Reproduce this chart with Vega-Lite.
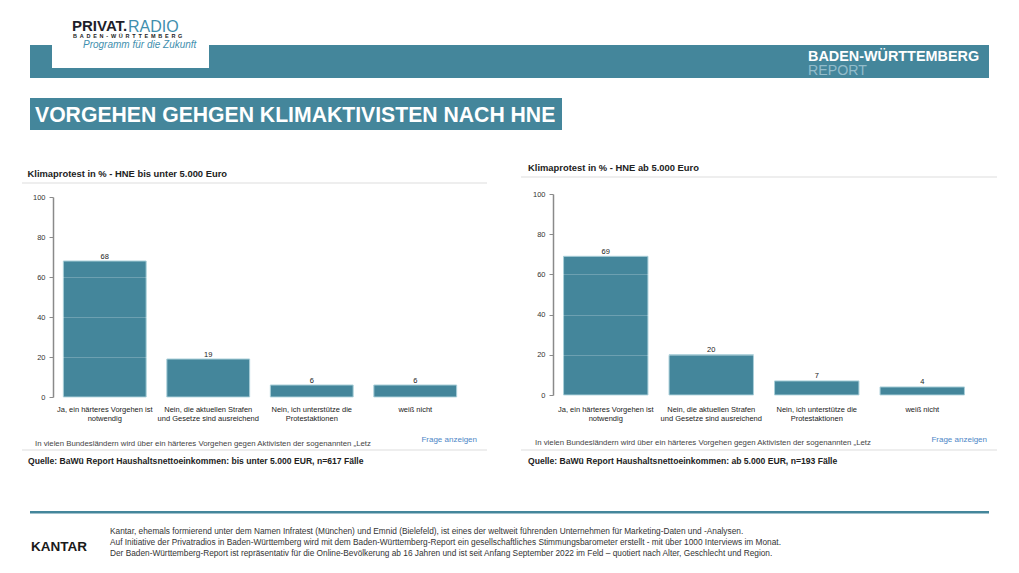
{
  "$schema": "https://vega.github.io/schema/vega-lite/v6.json",
  "padding": 0,
  "background": "#ffffff",
  "autosize": {"type": "pad"},
  "spacing": 0,
  "datasets": {
    "left": [
      {"antwort": "Ja, ein härteres Vorgehen ist notwendig", "anteil": 68},
      {"antwort": "Nein, die aktuellen Strafen und Gesetze sind ausreichend", "anteil": 19},
      {"antwort": "Nein, ich unterstütze die Protestaktionen", "anteil": 6},
      {"antwort": "weiß nicht", "anteil": 6}
    ],
    "right": [
      {"antwort": "Ja, ein härteres Vorgehen ist notwendig", "anteil": 69},
      {"antwort": "Nein, die aktuellen Strafen und Gesetze sind ausreichend", "anteil": 20},
      {"antwort": "Nein, ich unterstütze die Protestaktionen", "anteil": 7},
      {"antwort": "weiß nicht", "anteil": 4}
    ],
    "none": []
  },
  "vconcat": [
    {
      "spacing": 0,
      "hconcat": [
        {"width": 30, "height": 78, "data": {"name": "none"}, "mark": {"type": "text", "text": ""}},
        {"bounds": "flush", "spacing": 0, "vconcat": [
          {"width": 22, "height": 45, "data": {"name": "none"}, "mark": {"type": "text", "text": ""}},
          {"width": 22, "height": 33, "data": {"name": "none"}, "mark": {"type": "text", "text": ""}, "view": {"fill": "#44869b"}}
        ]},
        {"bounds": "flush", "spacing": 0, "vconcat": [
          {"width": 157, "height": 12, "data": {"name": "none"}, "mark": {"type": "text", "text": ""},
           "title": {"text": "PRIVAT.", "orient": "bottom", "anchor": "start", "offset": 7, "dx": 20, "fontSize": 15, "fontWeight": "bold", "color": "#1e1e2a", "limit": 2000}},
          {"width": 157, "height": 22, "data": {"name": "none"}, "mark": {"type": "text", "text": ""},
           "title": {"text": "RADIO", "orient": "bottom", "anchor": "start", "offset": -15.5, "dx": 76, "fontSize": 16, "fontWeight": "normal", "color": "#3f8fae", "limit": 2000}},
          {"width": 157, "height": 6, "data": {"name": "none"}, "mark": {"type": "text", "text": ""},
           "title": {"text": "B\u2002A\u2002D\u2002E\u2002N\u2002-\u2002W\u2002Ü\u2002R\u2002T\u2002T\u2002E\u2002M\u2002B\u2002E\u2002R\u2002G", "orient": "bottom", "anchor": "start", "offset": -5.8, "dx": 21, "fontSize": 5.5, "fontWeight": "bold", "color": "#222222", "limit": 2000}},
          {"width": 157, "height": 28, "data": {"name": "none"}, "mark": {"type": "text", "text": ""},
           "title": {"text": "Programm für die Zukunft", "orient": "bottom", "anchor": "start", "offset": -27.8, "dx": 31, "fontSize": 10, "fontWeight": "normal", "fontStyle": "italic", "color": "#3f8fae", "limit": 2000}},
          {"width": 157, "height": 10, "data": {"name": "none"}, "mark": {"type": "text", "text": ""}, "view": {"fill": "#44869b"}}
        ]},
        {"bounds": "flush", "spacing": 0, "vconcat": [
          {"width": 780, "height": 45, "data": {"name": "none"}, "mark": {"type": "text", "text": ""}},
          {"width": 780, "height": 33, "data": {"name": "none"}, "mark": {"type": "text", "text": ""}, "view": {"fill": "#44869b"},
           "title": {"text": "BADEN-WÜRTTEMBERG", "subtitle": "REPORT", "orient": "bottom", "anchor": "start", "offset": -28, "dx": 599, "fontSize": 14.4, "fontWeight": "bold", "color": "#ffffff", "subtitleFontSize": 14.2, "subtitleFontWeight": "normal", "subtitleColor": "#93bccb", "subtitlePadding": 0, "limit": 2000}}
        ]},
        {"width": 30, "height": 78, "data": {"name": "none"}, "mark": {"type": "text", "text": ""}}
      ]
    },
    {
      "spacing": 0,
      "vconcat": [
        {"width": 1019, "height": 19, "data": {"name": "none"}, "mark": {"type": "text", "text": ""}},
        {"bounds": "flush", "spacing": 0, "hconcat": [
          {"width": 30, "height": 32, "data": {"name": "none"}, "mark": {"type": "text", "text": ""}},
          {"width": 532, "height": 32, "data": {"name": "none"}, "mark": {"type": "text", "text": ""}, "view": {"fill": "#44869b"},
           "title": {"text": "VORGEHEN GEHGEN KLIMAKTIVISTEN NACH HNE", "orient": "bottom", "anchor": "start", "offset": -25.1, "dx": 5, "fontSize": 21.2, "fontWeight": "bold", "color": "#ffffff", "limit": 2000}},
          {"width": 457, "height": 32, "data": {"name": "none"}, "mark": {"type": "text", "text": ""}}
        ]}
      ]
    },
    {
      "spacing": 0,
      "hconcat": [
        {"width": 22, "height": 342, "data": {"name": "none"}, "mark": {"type": "text", "text": ""}},
        {"spacing": 0, "vconcat": [
          {"width": 465, "height": 52, "data": {"name": "none"}, "mark": {"type": "text", "text": ""},
           "title": {"text": "Klimaprotest in % - HNE bis unter 5.000 Euro", "orient": "bottom", "anchor": "start", "offset": -12, "dx": 5.5, "fontSize": 9.4, "fontWeight": "bold", "color": "#222222", "limit": 2000}},
          {"width": 465, "height": 2, "data": {"name": "none"}, "mark": {"type": "text", "text": ""}, "view": {"fill": "#eeeeee"}},
          {"width": 465, "height": 3, "data": {"name": "none"}, "mark": {"type": "text", "text": ""}},
          {"bounds": "flush", "spacing": 0, "hconcat": [
            {"width": 31, "height": 262, "data": {"name": "none"}, "mark": {"type": "text", "text": ""},
             "title": {"text": "In vielen Bundesländern wird über ein härteres Vorgehen gegen Aktivisten der sogenannten „Letz", "orient": "bottom", "anchor": "start", "offset": -9.3, "dx": 13, "fontSize": 7.8, "fontWeight": "normal", "color": "#444444", "limit": 2000}},
            {
              "width": 414, "height": 210,
              "data": {"name": "left"},
              "encoding": {
                "x": {"field": "antwort", "type": "nominal", "sort": null,
                      "scale": {"paddingInner": 0.2, "paddingOuter": 0.1},
                      "axis": {"title": null, "domain": false, "ticks": false, "labelAngle": 0, "labelFontSize": 7.5, "labelColor": "#222222", "labelPadding": 8, "labelLineHeight": 9, "labelOverlap": false, "labelLimit": 0,
                               "labelExpr": "datum.label == 'Ja, ein härteres Vorgehen ist notwendig' ? ['Ja, ein härteres Vorgehen ist', 'notwendig'] : datum.label == 'Nein, die aktuellen Strafen und Gesetze sind ausreichend' ? ['Nein, die aktuellen Strafen', 'und Gesetze sind ausreichend'] : datum.label == 'Nein, ich unterstütze die Protestaktionen' ? ['Nein, ich unterstütze die', 'Protestaktionen'] : datum.label"}},
                "y": {"field": "anteil", "type": "quantitative", "scale": {"domain": [0, 100], "range": [210, 10], "nice": false},
                      "axis": {"title": null, "values": [0, 20, 40, 60, 80, 100], "grid": true, "gridColor": "#ffffff", "gridOpacity": 0.22, "zindex": 1, "domainColor": "#8a8a8a", "domainWidth": 1.5, "tickColor": "#8a8a8a", "tickSize": 4, "labelFontSize": 7.5, "labelColor": "#333333", "labelPadding": 4}}
              },
              "layer": [
                {"mark": {"type": "bar", "color": "#44869b", "stroke": "#a9cfd9", "strokeWidth": 1}},
                {"mark": {"type": "text", "dy": -2.5, "baseline": "alphabetic", "fontSize": 7.5, "color": "#222222"}, "encoding": {"text": {"field": "anteil", "type": "quantitative"}}}
              ]
            },
            {"width": 20, "height": 262, "data": {"name": "none"}, "mark": {"type": "text", "text": ""},
             "title": {"text": "Frage anzeigen", "orient": "bottom", "anchor": "end", "offset": -13.5, "dx": -10, "fontSize": 8, "fontWeight": "normal", "color": "#4d86c6", "limit": 2000}}
          ]},
          {"width": 465, "height": 2, "data": {"name": "none"}, "mark": {"type": "text", "text": ""}, "view": {"fill": "#eeeeee"}},
          {"width": 465, "height": 21, "data": {"name": "none"}, "mark": {"type": "text", "text": ""},
           "title": {"text": "Quelle: BaWü Report Haushaltsnettoeinkommen: bis unter 5.000 EUR, n=617 Fälle", "orient": "bottom", "anchor": "start", "offset": -14.7, "dx": 6, "fontSize": 8.6, "fontWeight": "bold", "color": "#222222", "limit": 2000}}
        ]},
        {"width": 34, "height": 342, "data": {"name": "none"}, "mark": {"type": "text", "text": ""}},
        {"spacing": 0, "vconcat": [
          {"width": 476, "height": 46, "data": {"name": "none"}, "mark": {"type": "text", "text": ""},
           "title": {"text": "Klimaprotest in % - HNE ab 5.000 Euro", "orient": "bottom", "anchor": "start", "offset": -12, "dx": 7, "fontSize": 9.4, "fontWeight": "bold", "color": "#222222", "limit": 2000}},
          {"width": 476, "height": 2, "data": {"name": "none"}, "mark": {"type": "text", "text": ""}, "view": {"fill": "#eeeeee"}},
          {"width": 476, "height": 6, "data": {"name": "none"}, "mark": {"type": "text", "text": ""}},
          {"bounds": "flush", "spacing": 0, "hconcat": [
            {"width": 32, "height": 265, "data": {"name": "none"}, "mark": {"type": "text", "text": ""},
             "title": {"text": "In vielen Bundesländern wird über ein härteres Vorgehen gegen Aktivisten der sogenannten „Letz", "orient": "bottom", "anchor": "start", "offset": -10.3, "dx": 14, "fontSize": 7.8, "fontWeight": "normal", "color": "#444444", "limit": 2000}},
            {
              "width": 422, "height": 213,
              "data": {"name": "right"},
              "encoding": {
                "x": {"field": "antwort", "type": "nominal", "sort": null,
                      "scale": {"paddingInner": 0.2, "paddingOuter": 0.1},
                      "axis": {"title": null, "domain": false, "ticks": false, "labelAngle": 0, "labelFontSize": 7.5, "labelColor": "#222222", "labelPadding": 8, "labelLineHeight": 9, "labelOverlap": false, "labelLimit": 0,
                               "labelExpr": "datum.label == 'Ja, ein härteres Vorgehen ist notwendig' ? ['Ja, ein härteres Vorgehen ist', 'notwendig'] : datum.label == 'Nein, die aktuellen Strafen und Gesetze sind ausreichend' ? ['Nein, die aktuellen Strafen', 'und Gesetze sind ausreichend'] : datum.label == 'Nein, ich unterstütze die Protestaktionen' ? ['Nein, ich unterstütze die', 'Protestaktionen'] : datum.label"}},
                "y": {"field": "anteil", "type": "quantitative", "scale": {"domain": [0, 100], "range": [211, 10], "nice": false},
                      "axis": {"title": null, "values": [0, 20, 40, 60, 80, 100], "grid": true, "gridColor": "#ffffff", "gridOpacity": 0.22, "zindex": 1, "domainColor": "#8a8a8a", "domainWidth": 1.5, "tickColor": "#8a8a8a", "tickSize": 4, "labelFontSize": 7.5, "labelColor": "#333333", "labelPadding": 4}}
              },
              "layer": [
                {"mark": {"type": "bar", "color": "#44869b", "stroke": "#a9cfd9", "strokeWidth": 1}},
                {"mark": {"type": "text", "dy": -2.5, "baseline": "alphabetic", "fontSize": 7.5, "color": "#222222"}, "encoding": {"text": {"field": "anteil", "type": "quantitative"}}}
              ]
            },
            {"width": 22, "height": 265, "data": {"name": "none"}, "mark": {"type": "text", "text": ""},
             "title": {"text": "Frage anzeigen", "orient": "bottom", "anchor": "end", "offset": -13.5, "dx": -10, "fontSize": 8, "fontWeight": "normal", "color": "#4d86c6", "limit": 2000}}
          ]},
          {"width": 476, "height": 2, "data": {"name": "none"}, "mark": {"type": "text", "text": ""}, "view": {"fill": "#eeeeee"}},
          {"width": 476, "height": 21, "data": {"name": "none"}, "mark": {"type": "text", "text": ""},
           "title": {"text": "Quelle: BaWü Report Haushaltsnettoeinkommen: ab 5.000 EUR, n=193 Fälle", "orient": "bottom", "anchor": "start", "offset": -15.2, "dx": 7, "fontSize": 8.6, "fontWeight": "bold", "color": "#222222", "limit": 2000}}
        ]},
        {"width": 22, "height": 342, "data": {"name": "none"}, "mark": {"type": "text", "text": ""}}
      ]
    },
    {
      "spacing": 0,
      "hconcat": [
        {"width": 30, "height": 102, "data": {"name": "none"}, "mark": {"type": "text", "text": ""}},
        {"spacing": 0, "vconcat": [
          {"width": 959, "height": 39, "data": {"name": "none"}, "mark": {"type": "text", "text": ""}},
          {"width": 959, "height": 2.5, "data": {"name": "none"}, "mark": {"type": "text", "text": ""}, "view": {"fill": "#44869b"}},
          {"bounds": "flush", "spacing": 0, "hconcat": [
            {"width": 80, "height": 60.5, "data": {"name": "none"}, "mark": {"type": "text", "text": ""},
             "title": {"text": "KANTAR", "orient": "bottom", "anchor": "start", "offset": -35, "dx": 1, "fontSize": 13.5, "fontWeight": "bold", "color": "#1a1a1a", "limit": 2000}},
            {"width": 879, "height": 60.5, "data": {"name": "none"}, "mark": {"type": "text", "text": ""},
             "title": {"text": [
               "Kantar, ehemals formierend unter dem Namen Infratest (München) und Emnid  (Bielefeld), ist eines der weltweit führenden Unternehmen für Marketing-Daten und -Analysen.",
               "Auf Initiative der Privatradios in Baden-Württemberg wird mit dem Baden-Württemberg-Report ein gesellschaftliches Stimmungsbarometer erstellt - mit über 1000 Interviews im Monat.",
               "Der Baden-Württemberg-Report ist repräsentativ für die Online-Bevölkerung ab 16 Jahren und ist seit Anfang September 2022 im Feld – quotiert nach Alter, Geschlecht und Region."
             ], "orient": "bottom", "anchor": "start", "offset": -47.5, "dx": 0, "fontSize": 8.3, "lineHeight": 11, "fontWeight": "normal", "color": "#333333", "limit": 2000}}
          ]}
        ]},
        {"width": 30, "height": 102, "data": {"name": "none"}, "mark": {"type": "text", "text": ""}}
      ]
    }
  ],
  "config": {
    "font": "Liberation Sans",
    "view": {"stroke": null},
    "concat": {"spacing": 0},
    "axis": {"labelFont": "Liberation Sans"},
    "title": {"font": "Liberation Sans", "subtitleFont": "Liberation Sans", "frame": "group"}
  }
}
